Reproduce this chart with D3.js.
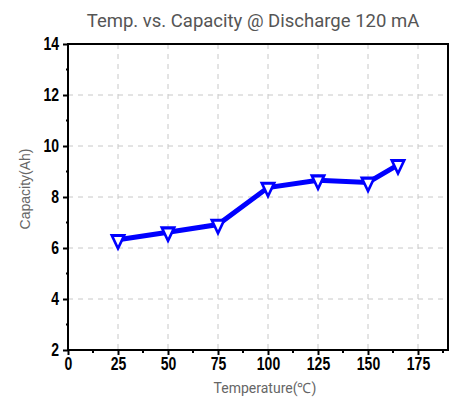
<!DOCTYPE html>
<html>
<head>
<meta charset="utf-8">
<script src="https://cdn.jsdelivr.net/npm/d3@7"></script>
<style>
  body { margin: 0; background: #fff; }
  svg { display: block; }
</style>
</head>
<body>
<svg id="chart" width="456" height="399"></svg>
<script>
var temps = [25, 50, 75, 100, 125, 150, 165];
var capacity = [6.32, 6.62, 6.92, 8.37, 8.66, 8.57, 9.26];
var xTicks = [0, 25, 50, 75, 100, 125, 150, 175];
var yTicks = [2, 4, 6, 8, 10, 12, 14];

var svg = d3.select("#chart");
var margin = {left: 68, right: 8, top: 44, bottom: 49};
var width = 456 - margin.left - margin.right,
	height = 399 - margin.top - margin.bottom;

var x = d3.scaleLinear().domain([0, 190]).range([0, width]);
var y = d3.scaleLinear().domain([2, 14]).range([height, 0]);

var g = svg.append("g")
	.attr("transform", "translate(" + margin.left + "," + margin.top + ")");

// title
svg.append("text")
	.attr("x", margin.left + width / 2 - 5)
	.attr("y", 27)
	.attr("text-anchor", "middle")
	.style("font-family", "Roboto, 'Liberation Sans', sans-serif")
	.style("font-size", "18.5px")
	.style("fill", "#555")
	.text("Temp. vs. Capacity @ Discharge 120 mA");

// grid
g.selectAll(".vgrid")
	.data(xTicks.slice(1))
	.enter().append("line")
	.attr("x1", function(d) { return x(d); })
	.attr("x2", function(d) { return x(d); })
	.attr("y1", 0)
	.attr("y2", height)
	.attr("stroke", "#c8c8c8")
	.attr("stroke-dasharray", "5,5");
g.selectAll(".hgrid")
	.data(yTicks.slice(1, -1))
	.enter().append("line")
	.attr("y1", function(d) { return y(d); })
	.attr("y2", function(d) { return y(d); })
	.attr("x1", 0)
	.attr("x2", width)
	.attr("stroke", "#c8c8c8")
	.attr("stroke-dasharray", "5,5");

// frame
g.append("rect")
	.attr("width", width)
	.attr("height", height)
	.attr("fill", "none")
	.attr("stroke", "#000")
	.attr("stroke-width", 2);

// minor ticks
g.selectAll(".xminor")
	.data(d3.range(12.5, 190, 25))
	.enter().append("line")
	.attr("x1", function(d) { return x(d); })
	.attr("x2", function(d) { return x(d); })
	.attr("y1", height)
	.attr("y2", height + 3)
	.attr("stroke", "#000")
	.attr("stroke-width", 2);
g.selectAll(".yminor")
	.data(d3.range(3, 14, 2))
	.enter().append("line")
	.attr("y1", function(d) { return y(d); })
	.attr("y2", function(d) { return y(d); })
	.attr("x1", -2)
	.attr("x2", 1)
	.attr("stroke", "#000")
	.attr("stroke-width", 2);

// axes
var xAxis = g.append("g")
	.attr("transform", "translate(0," + height + ")")
	.call(d3.axisBottom(x).tickValues(xTicks).tickSize(5).tickPadding(3));
var yAxis = g.append("g")
	.call(d3.axisLeft(y).tickValues(yTicks).tickSize(5).tickPadding(3));
[xAxis, yAxis].forEach(function(a) {
	a.select(".domain").remove();
	a.selectAll(".tick line").attr("stroke", "#000").attr("stroke-width", 2);
	a.selectAll(".tick text")
		.style("font-family", "'Liberation Sans', sans-serif")
		.style("font-weight", "bold")
		.style("font-size", "17.5px")
		.style("fill", "#000");
});
xAxis.selectAll(".tick text").attr("transform", "scale(0.8,1)");
yAxis.selectAll(".tick text")
	.attr("x", -9 / 0.8)
	.attr("transform", "scale(0.8,1)");

// axis labels
svg.append("text")
	.attr("x", margin.left + width / 2 + 7)
	.attr("y", 393)
	.attr("text-anchor", "middle")
	.style("font-family", "Roboto, 'Liberation Sans', sans-serif")
	.style("font-size", "14px")
	.style("fill", "#666")
	.text("Temperature(℃)");
svg.append("text")
	.attr("transform", "translate(30," + 189 + ") rotate(-90)")
	.attr("text-anchor", "middle")
	.style("font-family", "'Liberation Sans', sans-serif")
	.style("font-size", "14px")
	.style("fill", "#666")
	.text("Capacity(Ah)");

// series
var data = temps.map(function(t, i) { return {t: t, c: capacity[i]}; });
var line = d3.line()
	.x(function(d) { return x(d.t); })
	.y(function(d) { return y(d.c); });
g.append("path")
	.datum(data)
	.attr("d", line)
	.attr("fill", "none")
	.attr("stroke", "#0000ff")
	.attr("stroke-width", 5);

var tri = d3.symbol().type(d3.symbolTriangle).size(80);
g.selectAll(".marker")
	.data(data)
	.enter().append("path")
	.attr("d", tri)
	.attr("transform", function(d) { return "translate(" + x(d.t) + "," + y(d.c) + ") rotate(180) scale(0.9,1.1)"; })
	.attr("fill", "#fff")
	.attr("stroke", "#0000ff")
	.attr("stroke-width", 2.8);
</script>
</body>
</html>
